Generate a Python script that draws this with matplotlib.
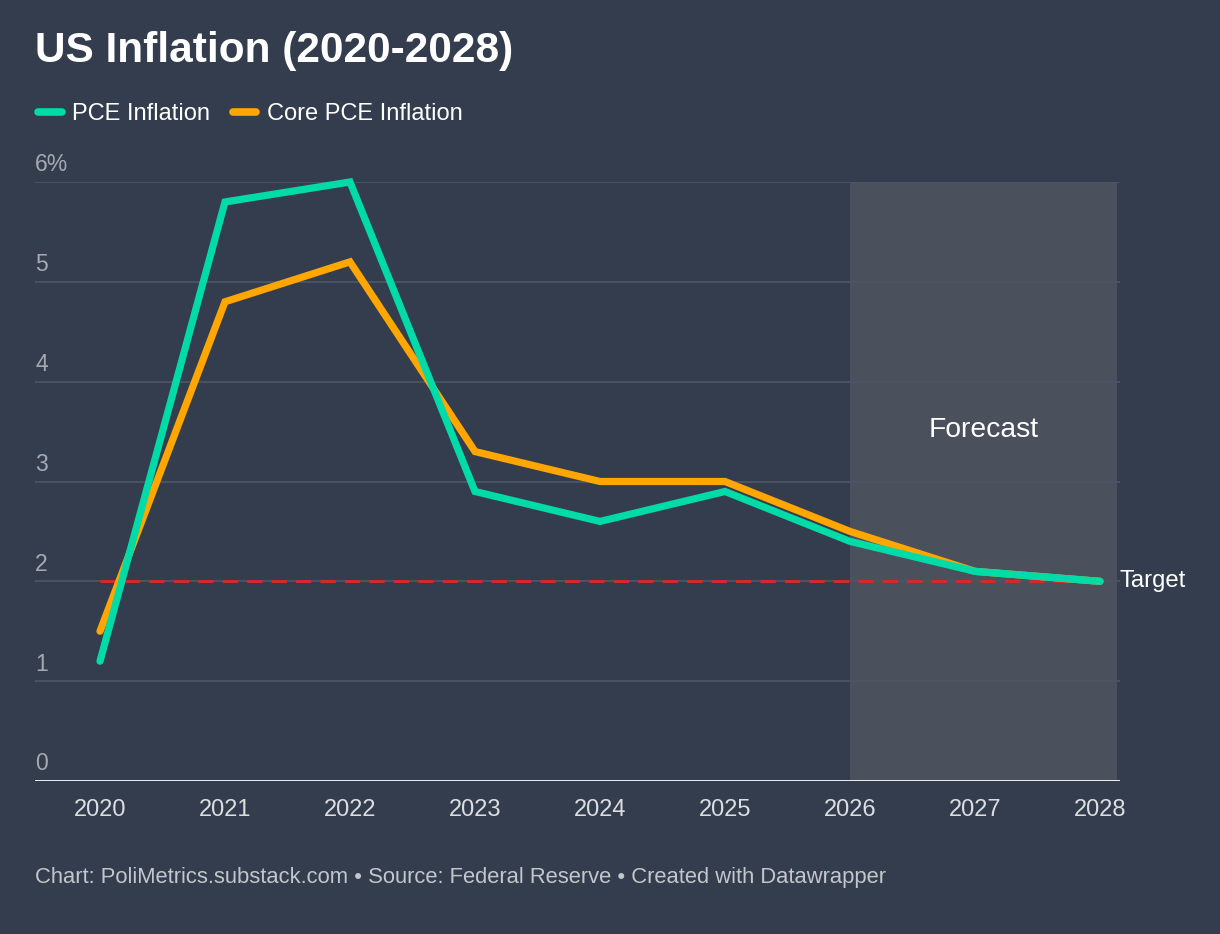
import matplotlib.pyplot as plt
from matplotlib.lines import Line2D

years = [2020, 2021, 2022, 2023, 2024, 2025, 2026, 2027, 2028]
pce = [1.2, 5.8, 6.0, 2.9, 2.6, 2.9, 2.4, 2.1, 2.0]
core_pce = [1.5, 4.8, 5.2, 3.3, 3.0, 3.0, 2.5, 2.1, 2.0]
y_ticks = [0, 1, 2, 3, 4, 5, 6]
y_labels = ["0", "1", "2", "3", "4", "5", "6%"]
target = 2.0
forecast_start, forecast_end = 2026, 2028.14

bg = "#333d4e"
teal = "#00dba8"
orange = "#ffa600"

plt.rcParams['font.family'] = ['Liberation Sans', 'DejaVu Sans']

fig = plt.figure(figsize=(12.2, 9.34), dpi=100, facecolor=bg)
ax = fig.add_axes([35 / 1220, 1 - 781 / 934, 1085 / 1220, 599 / 934])
ax.set_facecolor(bg)
ax.set_xlim(2019.48, 2028.16)
ax.set_ylim(0, 6)

# forecast band
ax.axvspan(forecast_start, forecast_end, color="#4a505c", zorder=0, lw=0)
ax.text((forecast_start + forecast_end) / 2, 3.52, "Forecast", color="white",
        fontsize=20.3, ha="center", va="center")

# grid lines and y labels
for t, lab in zip(y_ticks, y_labels):
    if t > 0:
        ax.axhline(t, color="#4c5566", lw=1.3, zorder=1)
    ax.annotate(lab, xy=(0, t), xycoords=("axes fraction", "data"),
                xytext=(0, 4), textcoords="offset points",
                color="#a6a9af", fontsize=16.5, ha="left", va="bottom")
ax.axhline(0, color="white", lw=2, zorder=5)

# target line
ax.plot([years[0], years[-1]], [target, target], color="#d02a2a", lw=2.2,
        dashes=(5, 3), zorder=2)
ax.annotate("Target", xy=(years[-1], target), xytext=(14, 0),
            textcoords="offset points", color="white", fontsize=17.2,
            ha="left", va="center", annotation_clip=False)

ax.plot(years, core_pce, color=orange, lw=5.2, solid_capstyle="round",
        solid_joinstyle="miter", zorder=3, clip_on=False)
ax.plot(years, pce, color=teal, lw=5.2, solid_capstyle="round",
        solid_joinstyle="miter", zorder=4, clip_on=False)

ax.set_xticks(years)
ax.set_xticklabels([str(y) for y in years], color="#dcdee1", fontsize=17)
ax.tick_params(axis="x", length=0, pad=13)
ax.set_yticks([])
for s in ax.spines.values():
    s.set_visible(False)

fig.text(35 / 1220, 1 - 51 / 934, "US Inflation (2020-2028)", color="white",
         fontsize=30.5, fontweight="bold", ha="left", va="center")

handles = [Line2D([], [], color=teal, lw=5.5, solid_capstyle="round"),
           Line2D([], [], color=orange, lw=5.5, solid_capstyle="round")]
fig.legend(handles, ["PCE Inflation", "Core PCE Inflation"],
           loc="center left", bbox_to_anchor=(38 / 1220, 1 - 114 / 934),
           ncol=2, frameon=False, fontsize=17, handlelength=1.0,
           handletextpad=0.45, columnspacing=0.95, labelcolor="white",
           borderpad=0, borderaxespad=0)

fig.text(35 / 1220, 1 - 877 / 934,
         "Chart: PoliMetrics.substack.com \u2022 Source: Federal Reserve \u2022 Created with Datawrapper",
         color="#c3c6cb", fontsize=15.8, ha="left", va="center")

fig.savefig("out.png", dpi=100, facecolor=bg)
